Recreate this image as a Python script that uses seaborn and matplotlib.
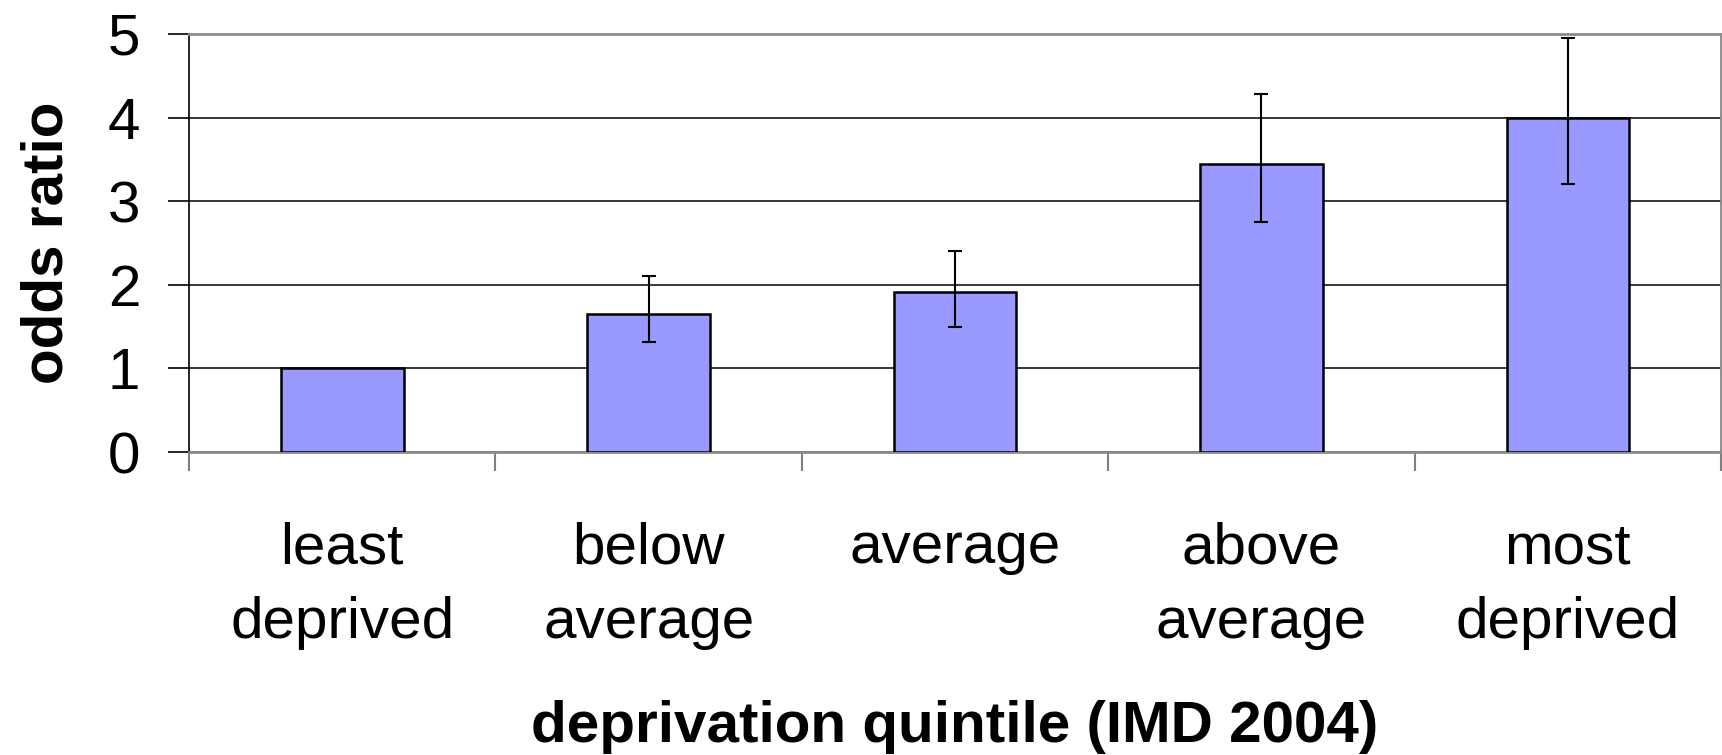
import matplotlib
matplotlib.use("Agg")
import matplotlib.pyplot as plt
import seaborn as sns
import pandas as pd
import numpy as np

# Odds ratio by deprivation quintile with 95% confidence intervals
categories = ["least\ndeprived", "below\naverage", "average", "above\naverage", "most\ndeprived"]
odds_ratio = [1.0, 1.65, 1.91, 3.45, 4.0]
ci_lower = [1.0, 1.31, 1.50, 2.75, 3.21]
ci_upper = [1.0, 2.10, 2.41, 4.28, 4.95]

df = pd.DataFrame({"quintile": categories, "odds_ratio": odds_ratio})

sns.set_style("white")
plt.rcParams["font.family"] = ["Liberation Sans", "DejaVu Sans"]
plt.rcParams["text.color"] = "black"
plt.rcParams["axes.labelcolor"] = "black"
plt.rcParams["xtick.labelcolor"] = "black"
plt.rcParams["ytick.labelcolor"] = "black"

fig = plt.figure(figsize=(17.22, 7.55), dpi=100)
ax = fig.add_axes([0.1098, 0.4013, 0.8896, 0.5537])

sns.barplot(data=df, x="quintile", y="odds_ratio", color="#9999FF",
            saturation=1, width=0.4, edgecolor="black", linewidth=1.8,
            errorbar=None, ax=ax, zorder=3)

pos = np.arange(len(categories))
lower_err = np.array(odds_ratio) - np.array(ci_lower)
upper_err = np.array(ci_upper) - np.array(odds_ratio)
mask = (lower_err + upper_err) > 0
ax.errorbar(pos[mask], np.array(odds_ratio)[mask],
            yerr=[lower_err[mask], upper_err[mask]],
            fmt="none", ecolor="black", elinewidth=1.5, capsize=5,
            capthick=1.5, zorder=4)

ax.set_ylim(0, 5)
ax.set_xlim(-0.5, len(categories) - 0.5)
ax.set_yticks(range(0, 6))
ax.yaxis.grid(True, color="black", linewidth=1.1, zorder=0)
ax.set_axisbelow(True)

# Category boundaries as major ticks, labels on minor ticks at bar centres
ax.set_xticks(np.arange(-0.5, len(categories), 1.0))
ax.set_xticklabels([])
ax.set_xticks(pos, minor=True)
ax.set_xticklabels(categories, minor=True, fontsize=42, linespacing=1.5)
ax.tick_params(axis="x", which="major", direction="out", length=14,
               width=1.5, color="#808080", bottom=True)
ax.tick_params(axis="x", which="minor", length=0, pad=50)
ax.tick_params(axis="y", direction="out", length=15, width=1.2,
               color="black", left=True, labelsize=42, pad=20)

for side in ["top", "right", "bottom"]:
    ax.spines[side].set_color("#8c8c8c")
    ax.spines[side].set_linewidth(2)
ax.spines["left"].set_color("black")
ax.spines["left"].set_linewidth(1.2)

ax.set_xlabel("deprivation quintile (IMD 2004)", fontsize=42,
              fontweight="bold", labelpad=36)
ax.set_ylabel("odds ratio", fontsize=42, fontweight="bold", labelpad=24)

fig.savefig("out.png", dpi=100)
